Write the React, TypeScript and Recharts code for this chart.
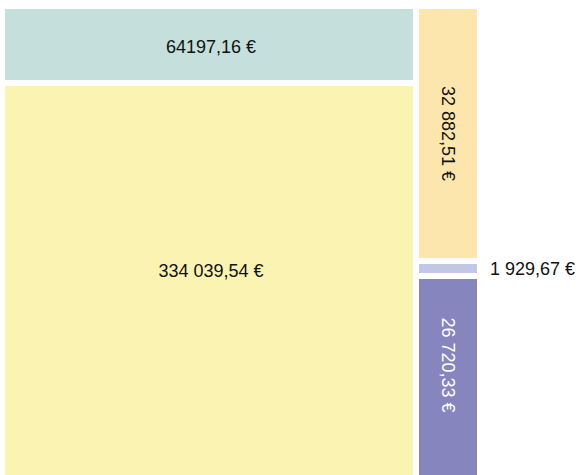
import React from 'react';
import { Treemap } from 'recharts';

const NAMES = ['A', 'B', 'C', 'D', 'E'];
const VALUES = [64197.16, 334039.54, 32882.51, 1929.67, 26720.33];
const LABELS = ['64197,16 €', '334 039,54 €', '32 882,51 €', '1 929,67 €', '26 720,33 €'];

const COLORS = ['#c5dfdc', '#faf3b1', '#fde6ae', '#c3c7e6', '#8685bd'];
const TEXT_COLORS = ['#111', '#111', '#111', '#111', '#fff'];

const data = NAMES.map((name, i) => ({ name, value: VALUES[i] }));

const FONT = '"Liberation Sans", Arial, sans-serif';
const VISIBLE_BOTTOM = 448; // chart is cut by the page, labels centre on the visible part

const textStyle = { fontSize: 18, fontFamily: FONT, fontWeight: 400, stroke: 'none' };

const Cell = (props: any) => {
  const { x, y, width, height, depth, index } = props;
  if (depth !== 1) return null;
  const i = index;
  const bottom = Math.min(y + height, VISIBLE_BOTTOM);
  const cx = x + width / 2;
  const cy = (y + bottom) / 2;
  let label: React.ReactNode;
  if (height < 20) {
    label = (
      <text x={x + width + 10} y={y + height / 2} dominantBaseline="central" textAnchor="start"
        style={{ ...textStyle, fill: '#111' }}>
        {LABELS[i]}
      </text>
    );
  } else if (width < 100 && height > width * 2) {
    label = (
      <text x={cx} y={cy} transform={`rotate(90 ${cx} ${cy})`} dominantBaseline="central" textAnchor="middle"
        style={{ ...textStyle, fill: TEXT_COLORS[i] }}>
        {LABELS[i]}
      </text>
    );
  } else {
    label = (
      <text x={cx + 2} y={cy + 2} dominantBaseline="central" textAnchor="middle"
        style={{ ...textStyle, fill: TEXT_COLORS[i] }}>
        {LABELS[i]}
      </text>
    );
  }
  return (
    <g>
      <rect x={x} y={y} width={width} height={height} fill={COLORS[i]} stroke="#fff" strokeWidth={6} />
      {label}
    </g>
  );
};

export default function App() {
  return (
    <div style={{ position: 'fixed', inset: 0, overflow: 'hidden', background: '#fff' }}>
      <style>{'.recharts-surface { overflow: visible; }'}</style>
      <div style={{ position: 'absolute', left: 2, top: 6 }}>
        <Treemap
          width={478}
          height={477}
          data={data}
          dataKey="value"
          nameKey="name"
          stroke="#fff"
          content={<Cell />}
          isAnimationActive={false}
        />
      </div>
    </div>
  );
}
